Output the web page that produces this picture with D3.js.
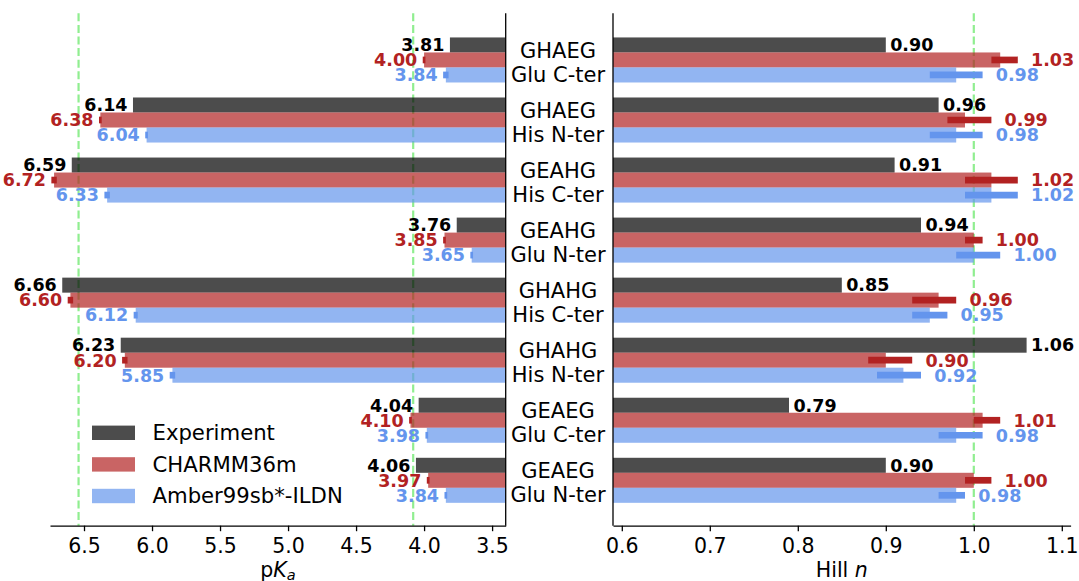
<!DOCTYPE html>
<html>
<head>
<meta charset="utf-8">
<script src="https://cdn.jsdelivr.net/npm/d3@7"></script>
<style>
  body { margin: 0; background: #fff; }
  svg { display: block; }
  text { font-family: "DejaVu Sans", sans-serif; }
</style>
</head>
<body>
<svg id="chart" width="1079" height="581"></svg>
<script>
// ---- data ---------------------------------------------------------------
const peptides = ["GHAEG", "GHAEG", "GEAHG", "GEAHG", "GHAHG", "GHAHG", "GEAEG", "GEAEG"];
const sites    = ["Glu C-ter", "His N-ter", "His C-ter", "Glu N-ter", "His C-ter", "His N-ter", "Glu C-ter", "Glu N-ter"];
const seriesNames = ["Experiment", "CHARMM36m", "Amber99sb*-ILDN"];

// pKa values
const pkaExp       = [3.81, 6.14, 6.59, 3.76, 6.66, 6.23, 4.04, 4.06];
const pkaCharmm    = [4.00, 6.38, 6.72, 3.85, 6.60, 6.20, 4.10, 3.97];
const pkaCharmmErr = [0.01, 0.01, 0.02, 0.01, 0.02, 0.02, 0.01, 0.01];
const pkaAmber     = [3.84, 6.04, 6.33, 3.65, 6.12, 5.85, 3.98, 3.84];
const pkaAmberErr  = [0.02, 0.01, 0.02, 0.01, 0.015, 0.02, 0.01, 0.01];

// Hill coefficients (lower / upper uncertainty)
const hillExp      = [0.90, 0.96, 0.91, 0.94, 0.85, 1.06, 0.79, 0.90];
const hillCharmm   = [1.03, 0.99, 1.02, 1.00, 0.96, 0.90, 1.01, 1.00];
const hillCharmmLo = [0.01, 0.02, 0.03, 0.01, 0.03, 0.02, 0.01, 0.01];
const hillCharmmHi = [0.02, 0.03, 0.03, 0.01, 0.02, 0.03, 0.02, 0.02];
const hillAmber    = [0.98, 0.98, 1.02, 1.00, 0.95, 0.92, 0.98, 0.98];
const hillAmberLo  = [0.03, 0.03, 0.03, 0.02, 0.02, 0.03, 0.02, 0.02];
const hillAmberHi  = [0.03, 0.03, 0.03, 0.03, 0.02, 0.02, 0.03, 0.01];

// reference lines and axis ticks
const pkaRefLines  = [6.54, 4.08];
const hillRefLines = [1.0];
const pkaTicks  = [6.5, 6.0, 5.5, 5.0, 4.5, 4.0, 3.5];
const hillTicks = [0.6, 0.7, 0.8, 0.9, 1.0, 1.1];

// ---- styling --------------------------------------------------------------
const baseColors = ["#000000", "#b22222", "#6495ed"];
const barOpacity = 0.7;
const refColor = "#90ee90";
const barH = 0.25;
const valueFont = 17.5;

const svg = d3.select("#chart");
svg.append("rect").attr("width", 1079).attr("height", 581).attr("fill", "#fff");

const axTop = 13.3, axBottom = 525.7;
const y = d3.scaleLinear().domain([-0.777, 7.756]).range([axTop, axBottom]);
const xL = d3.scaleLinear().domain([6.75, 3.4]).range([50, 505.7]);
const xR = d3.scaleLinear().domain([0.59, 1.11]).range([613.0, 1070.6]);

const idx = d3.range(peptides.length);
const offsets = [-barH, 0, barH];

// clip paths keep bars inside each panel
const defs = svg.append("defs");
defs.append("clipPath").attr("id", "clipL").append("rect")
  .attr("x", xL.range()[0]).attr("y", axTop)
  .attr("width", xL.range()[1] - xL.range()[0]).attr("height", axBottom - axTop);
defs.append("clipPath").attr("id", "clipR").append("rect")
  .attr("x", xR.range()[0]).attr("y", axTop)
  .attr("width", xR.range()[1] - xR.range()[0]).attr("height", axBottom - axTop);

function refLines(x, values) {
  svg.append("g").selectAll("line").data(values).join("line")
    .attr("x1", d => x(d)).attr("x2", d => x(d))
    .attr("y1", axTop).attr("y2", axBottom)
    .attr("stroke", refColor).attr("stroke-width", 2.2)
    .attr("stroke-dasharray", "8,3.6");
}

refLines(xL, pkaRefLines);
refLines(xR, hillRefLines);

// ---- left panel: pKa (reversed axis, bars grow leftwards) ----------------
const pkaSeries = [pkaExp, pkaCharmm, pkaAmber];
const pkaErrs = [null, pkaCharmmErr, pkaAmberErr];
const gL = svg.append("g").attr("clip-path", "url(#clipL)");
pkaSeries.forEach((vals, s) => {
  gL.append("g").selectAll("rect").data(idx).join("rect")
    .attr("x", i => xL(vals[i]))
    .attr("width", i => xL.range()[1] - xL(vals[i]))
    .attr("y", i => y(i + offsets[s] - barH / 2))
    .attr("height", y(barH) - y(0))
    .attr("fill", baseColors[s]).attr("fill-opacity", barOpacity);
});
pkaSeries.forEach((vals, s) => {
  const err = pkaErrs[s];
  if (err) {
    svg.append("g").selectAll("line").data(idx).join("line")
      .attr("x1", i => xL(vals[i] - err[i])).attr("x2", i => xL(vals[i] + err[i]))
      .attr("y1", i => y(i + offsets[s])).attr("y2", i => y(i + offsets[s]))
      .attr("stroke", baseColors[s]).attr("stroke-width", 6.7);
  }
  svg.append("g").selectAll("text").data(idx).join("text")
    .attr("x", i => xL(vals[i] + (err ? err[i] : 0) + 0.04))
    .attr("y", i => y(i + offsets[s]))
    .attr("dy", "0.36em")
    .attr("text-anchor", "end")
    .attr("font-size", valueFont).attr("font-weight", "bold")
    .attr("fill", baseColors[s])
    .text(i => vals[i].toFixed(2));
});

// ---- right panel: Hill coefficient --------------------------------------
const hillSeries = [hillExp, hillCharmm, hillAmber];
const hillLo = [null, hillCharmmLo, hillAmberLo];
const hillHi = [null, hillCharmmHi, hillAmberHi];
const gR = svg.append("g").attr("clip-path", "url(#clipR)");
hillSeries.forEach((vals, s) => {
  gR.append("g").selectAll("rect").data(idx).join("rect")
    .attr("x", xR.range()[0])
    .attr("width", i => xR(vals[i]) - xR.range()[0])
    .attr("y", i => y(i + offsets[s] - barH / 2))
    .attr("height", y(barH) - y(0))
    .attr("fill", baseColors[s]).attr("fill-opacity", barOpacity);
});
hillSeries.forEach((vals, s) => {
  const lo = hillLo[s], hi = hillHi[s];
  if (lo) {
    svg.append("g").selectAll("line").data(idx).join("line")
      .attr("x1", i => xR(vals[i] - lo[i])).attr("x2", i => xR(vals[i] + hi[i]))
      .attr("y1", i => y(i + offsets[s])).attr("y2", i => y(i + offsets[s]))
      .attr("stroke", baseColors[s]).attr("stroke-width", 6.7);
  }
  svg.append("g").selectAll("text").data(idx).join("text")
    .attr("x", i => hi ? xR(vals[i] + hi[i] + 0.015) : xR(vals[i] + 0.005))
    .attr("y", i => y(i + offsets[s]))
    .attr("dy", "0.36em")
    .attr("text-anchor", "start")
    .attr("font-size", valueFont).attr("font-weight", "bold")
    .attr("fill", baseColors[s])
    .text(i => vals[i].toFixed(2));
});

// ---- category labels between the panels ---------------------------------
const labelX = 558;
const cat = svg.append("g").attr("font-size", 21).attr("text-anchor", "middle").attr("fill", "#000");
cat.selectAll("text.pep").data(idx).join("text").attr("class", "pep")
  .attr("x", labelX).attr("y", i => y(i) - 2.3).text(i => peptides[i]);
cat.selectAll("text.site").data(idx).join("text").attr("class", "site")
  .attr("x", labelX).attr("y", i => y(i) + 21.7).text(i => sites[i]);

// ---- axes ---------------------------------------------------------------
function styleAxis(g) {
  g.attr("font-size", null).attr("font-family", null);
  g.select(".domain").attr("stroke", "#000").attr("stroke-width", 1.3);
  g.selectAll(".tick line").attr("stroke", "#000").attr("stroke-width", 1.3);
  g.selectAll(".tick text").attr("font-size", 20.5).attr("fill", "#000");
}
svg.append("g").attr("transform", `translate(0,${axBottom})`)
  .call(d3.axisBottom(xL).tickValues(pkaTicks).tickFormat(d3.format(".1f"))
    .tickSize(5.5).tickSizeOuter(0).tickPadding(7))
  .call(styleAxis);
svg.append("g").attr("transform", `translate(0,${axBottom})`)
  .call(d3.axisBottom(xR).tickValues(hillTicks).tickFormat(d3.format(".1f"))
    .tickSize(5.5).tickSizeOuter(0).tickPadding(7))
  .call(styleAxis);

// vertical spines: right edge of pKa panel, left edge of Hill panel
svg.append("line").attr("x1", xL.range()[1]).attr("x2", xL.range()[1])
  .attr("y1", axTop).attr("y2", axBottom).attr("stroke", "#000").attr("stroke-width", 1.3);
svg.append("line").attr("x1", xR.range()[0]).attr("x2", xR.range()[0])
  .attr("y1", axTop).attr("y2", axBottom).attr("stroke", "#000").attr("stroke-width", 1.3);

// axis titles
const tL = svg.append("text").attr("x", (xL.range()[0] + xL.range()[1]) / 2).attr("y", 576.5)
  .attr("text-anchor", "middle").attr("font-size", 20.5).attr("fill", "#000");
tL.append("tspan").text("p");
tL.append("tspan").attr("font-style", "italic").text("K");
tL.append("tspan").attr("font-style", "italic").attr("font-size", 14.5).attr("dy", 3).text("a");

const tR = svg.append("text").attr("x", (xR.range()[0] + xR.range()[1]) / 2).attr("y", 577)
  .attr("text-anchor", "middle").attr("font-size", 20.5).attr("fill", "#000");
tR.append("tspan").text("Hill ");
tR.append("tspan").attr("font-style", "italic").text("n");

// ---- legend -------------------------------------------------------------
const legendRows = [432.8, 464.4, 496.0];
const legend = svg.append("g");
seriesNames.forEach((name, s) => {
  legend.append("rect").attr("x", 92).attr("y", legendRows[s] - 7.2)
    .attr("width", 43).attr("height", 14.4)
    .attr("fill", baseColors[s]).attr("fill-opacity", barOpacity);
  legend.append("text").attr("x", 152.5).attr("y", legendRows[s] + 7.4)
    .attr("font-size", 21.2).attr("fill", "#000").text(name);
});
</script>
</body>
</html>
